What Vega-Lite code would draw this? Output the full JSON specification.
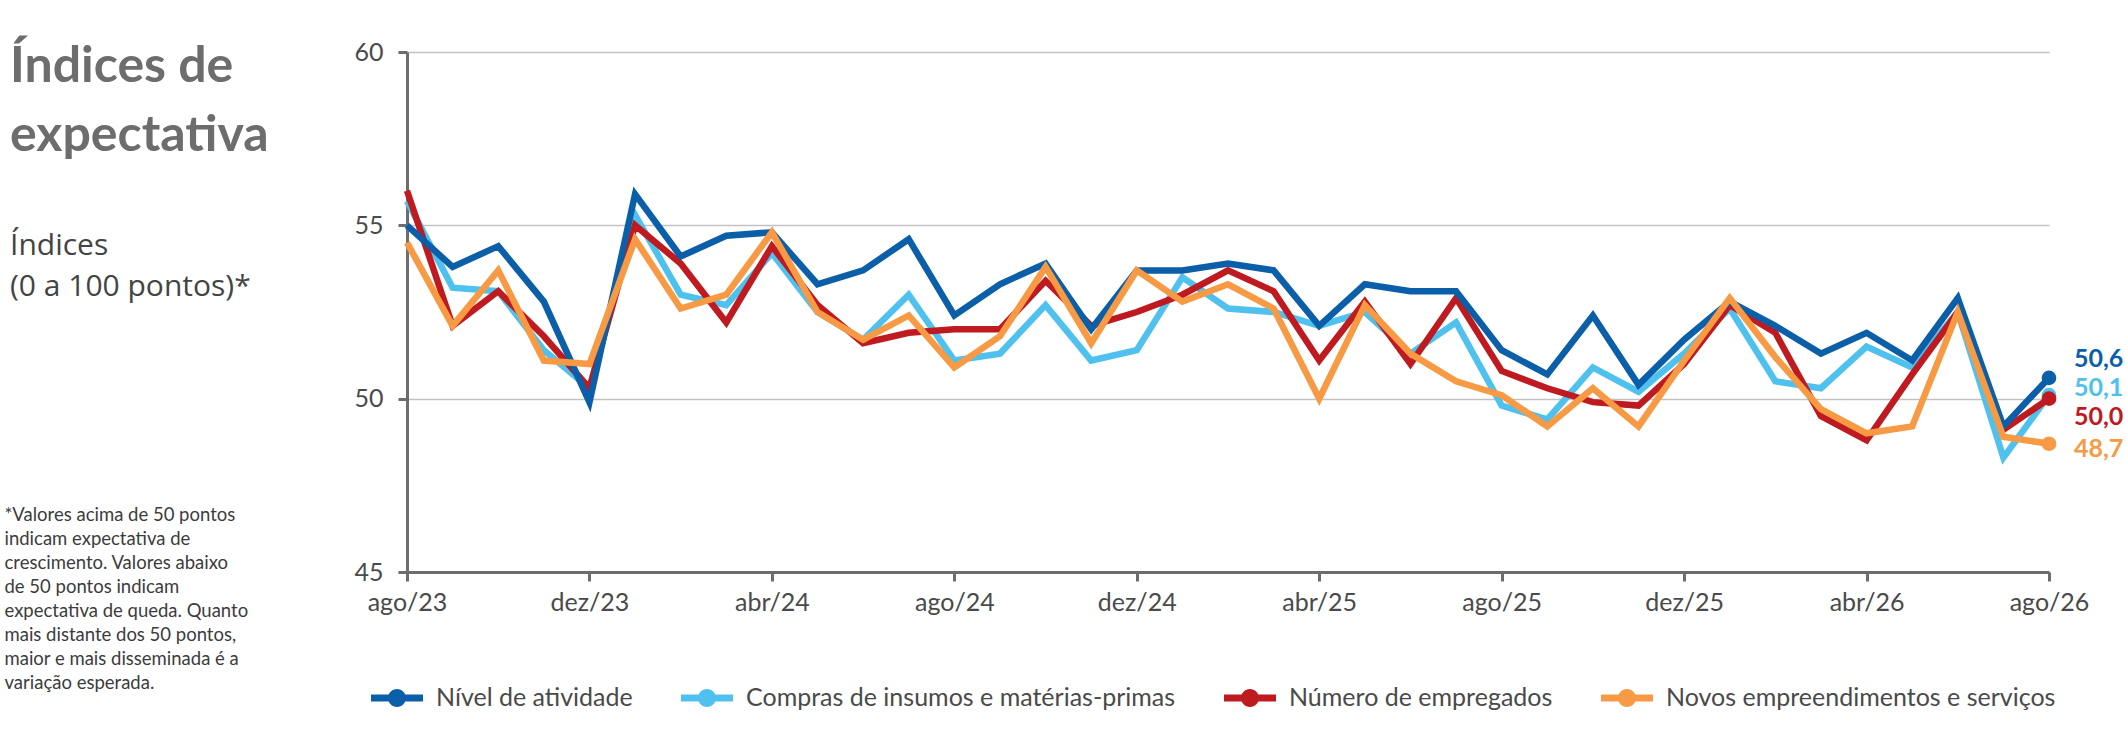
{
  "$schema": "https://vega.github.io/schema/vega-lite/v6.json",
  "width": 1642,
  "height": 520,
  "autosize": {"type": "none"},
  "padding": {"left": 407, "top": 52, "right": 77, "bottom": 163},
  "background": "white",
  "title": {
    "text": ["Índices de", "expectativa"],
    "subtitle": ["Índices", "(0 a 100 pontos)*"],
    "anchor": "start",
    "frame": "group",
    "offset": 0,
    "dx": -397,
    "dy": 262,
    "font": "Lato",
    "fontSize": 50,
    "fontWeight": "bold",
    "color": "#6d6d6d",
    "lineHeight": 69,
    "subtitleFont": "Open Sans",
    "subtitleFontSize": 30,
    "subtitleColor": "#444444",
    "subtitleLineHeight": 41,
    "subtitlePadding": 70
  },
  "data": {
    "values": [
      {"mes": "ago/23", "Nível de atividade": 55.0, "Compras de insumos e matérias-primas": 55.7, "Número de empregados": 56.0, "Novos empreendimentos e serviços": 54.5},
      {"mes": "set/23", "Nível de atividade": 53.8, "Compras de insumos e matérias-primas": 53.2, "Número de empregados": 52.1, "Novos empreendimentos e serviços": 52.1},
      {"mes": "out/23", "Nível de atividade": 54.4, "Compras de insumos e matérias-primas": 53.1, "Número de empregados": 53.1, "Novos empreendimentos e serviços": 53.7},
      {"mes": "nov/23", "Nível de atividade": 52.8, "Compras de insumos e matérias-primas": 51.4, "Número de empregados": 51.8, "Novos empreendimentos e serviços": 51.1},
      {"mes": "dez/23", "Nível de atividade": 49.9, "Compras de insumos e matérias-primas": 50.3, "Número de empregados": 50.3, "Novos empreendimentos e serviços": 51.0},
      {"mes": "jan/24", "Nível de atividade": 55.9, "Compras de insumos e matérias-primas": 55.3, "Número de empregados": 55.0, "Novos empreendimentos e serviços": 54.6},
      {"mes": "fev/24", "Nível de atividade": 54.1, "Compras de insumos e matérias-primas": 53.0, "Número de empregados": 53.9, "Novos empreendimentos e serviços": 52.6},
      {"mes": "mar/24", "Nível de atividade": 54.7, "Compras de insumos e matérias-primas": 52.7, "Número de empregados": 52.2, "Novos empreendimentos e serviços": 53.0},
      {"mes": "abr/24", "Nível de atividade": 54.8, "Compras de insumos e matérias-primas": 54.2, "Número de empregados": 54.4, "Novos empreendimentos e serviços": 54.8},
      {"mes": "mai/24", "Nível de atividade": 53.3, "Compras de insumos e matérias-primas": 52.5, "Número de empregados": 52.7, "Novos empreendimentos e serviços": 52.5},
      {"mes": "jun/24", "Nível de atividade": 53.7, "Compras de insumos e matérias-primas": 51.7, "Número de empregados": 51.6, "Novos empreendimentos e serviços": 51.7},
      {"mes": "jul/24", "Nível de atividade": 54.6, "Compras de insumos e matérias-primas": 53.0, "Número de empregados": 51.9, "Novos empreendimentos e serviços": 52.4},
      {"mes": "ago/24", "Nível de atividade": 52.4, "Compras de insumos e matérias-primas": 51.1, "Número de empregados": 52.0, "Novos empreendimentos e serviços": 50.9},
      {"mes": "set/24", "Nível de atividade": 53.3, "Compras de insumos e matérias-primas": 51.3, "Número de empregados": 52.0, "Novos empreendimentos e serviços": 51.8},
      {"mes": "out/24", "Nível de atividade": 53.9, "Compras de insumos e matérias-primas": 52.7, "Número de empregados": 53.4, "Novos empreendimentos e serviços": 53.8},
      {"mes": "nov/24", "Nível de atividade": 52.0, "Compras de insumos e matérias-primas": 51.1, "Número de empregados": 52.1, "Novos empreendimentos e serviços": 51.6},
      {"mes": "dez/24", "Nível de atividade": 53.7, "Compras de insumos e matérias-primas": 51.4, "Número de empregados": 52.5, "Novos empreendimentos e serviços": 53.7},
      {"mes": "jan/25", "Nível de atividade": 53.7, "Compras de insumos e matérias-primas": 53.5, "Número de empregados": 53.0, "Novos empreendimentos e serviços": 52.8},
      {"mes": "fev/25", "Nível de atividade": 53.9, "Compras de insumos e matérias-primas": 52.6, "Número de empregados": 53.7, "Novos empreendimentos e serviços": 53.3},
      {"mes": "mar/25", "Nível de atividade": 53.7, "Compras de insumos e matérias-primas": 52.5, "Número de empregados": 53.1, "Novos empreendimentos e serviços": 52.6},
      {"mes": "abr/25", "Nível de atividade": 52.1, "Compras de insumos e matérias-primas": 52.1, "Número de empregados": 51.1, "Novos empreendimentos e serviços": 50.0},
      {"mes": "mai/25", "Nível de atividade": 53.3, "Compras de insumos e matérias-primas": 52.5, "Número de empregados": 52.8, "Novos empreendimentos e serviços": 52.7},
      {"mes": "jun/25", "Nível de atividade": 53.1, "Compras de insumos e matérias-primas": 51.3, "Número de empregados": 51.0, "Novos empreendimentos e serviços": 51.3},
      {"mes": "jul/25", "Nível de atividade": 53.1, "Compras de insumos e matérias-primas": 52.2, "Número de empregados": 52.9, "Novos empreendimentos e serviços": 50.5},
      {"mes": "ago/25", "Nível de atividade": 51.4, "Compras de insumos e matérias-primas": 49.8, "Número de empregados": 50.8, "Novos empreendimentos e serviços": 50.1},
      {"mes": "set/25", "Nível de atividade": 50.7, "Compras de insumos e matérias-primas": 49.4, "Número de empregados": 50.3, "Novos empreendimentos e serviços": 49.2},
      {"mes": "out/25", "Nível de atividade": 52.4, "Compras de insumos e matérias-primas": 50.9, "Número de empregados": 49.9, "Novos empreendimentos e serviços": 50.3},
      {"mes": "nov/25", "Nível de atividade": 50.4, "Compras de insumos e matérias-primas": 50.2, "Número de empregados": 49.8, "Novos empreendimentos e serviços": 49.2},
      {"mes": "dez/25", "Nível de atividade": 51.7, "Compras de insumos e matérias-primas": 51.3, "Número de empregados": 51.0, "Novos empreendimentos e serviços": 51.1},
      {"mes": "jan/26", "Nível de atividade": 52.8, "Compras de insumos e matérias-primas": 52.6, "Número de empregados": 52.7, "Novos empreendimentos e serviços": 52.9},
      {"mes": "fev/26", "Nível de atividade": 52.1, "Compras de insumos e matérias-primas": 50.5, "Número de empregados": 51.9, "Novos empreendimentos e serviços": 51.2},
      {"mes": "mar/26", "Nível de atividade": 51.3, "Compras de insumos e matérias-primas": 50.3, "Número de empregados": 49.5, "Novos empreendimentos e serviços": 49.7},
      {"mes": "abr/26", "Nível de atividade": 51.9, "Compras de insumos e matérias-primas": 51.5, "Número de empregados": 48.8, "Novos empreendimentos e serviços": 49.0},
      {"mes": "mai/26", "Nível de atividade": 51.1, "Compras de insumos e matérias-primas": 50.9, "Número de empregados": 50.7, "Novos empreendimentos e serviços": 49.2},
      {"mes": "jun/26", "Nível de atividade": 52.9, "Compras de insumos e matérias-primas": 52.5, "Número de empregados": 52.5, "Novos empreendimentos e serviços": 52.5},
      {"mes": "jul/26", "Nível de atividade": 49.2, "Compras de insumos e matérias-primas": 48.3, "Número de empregados": 49.1, "Novos empreendimentos e serviços": 48.9},
      {"mes": "ago/26", "Nível de atividade": 50.6, "Compras de insumos e matérias-primas": 50.1, "Número de empregados": 50.0, "Novos empreendimentos e serviços": 48.7}
    ]
  },
  "transform": [
    {"fold": ["Compras de insumos e matérias-primas", "Número de empregados", "Nível de atividade", "Novos empreendimentos e serviços"], "as": ["serie", "valor"]}
  ],
  "encoding": {
    "x": {
      "field": "mes",
      "type": "ordinal",
      "sort": null,
      "scale": {"type": "point", "padding": 0},
      "axis": {
        "title": null,
        "values": ["ago/23", "dez/23", "abr/24", "ago/24", "dez/24", "abr/25", "ago/25", "dez/25", "abr/26", "ago/26"],
        "labelAngle": 0,
        "labelFont": "Lato",
        "labelFontSize": 25,
        "labelColor": "#4a4a4a",
        "labelPadding": 9,
        "domainColor": "#6d6d6d",
        "domainWidth": 3,
        "tickColor": "#6d6d6d",
        "tickWidth": 3,
        "tickSize": 9,
        "grid": false
      }
    },
    "y": {
      "field": "valor",
      "type": "quantitative",
      "scale": {"domain": [45, 60], "nice": false, "zero": false},
      "axis": {
        "values": [45, 50, 55, 60],
        "labelFont": "Lato",
        "labelFontSize": 25,
        "labelColor": "#4a4a4a",
        "labelPadding": 15,
        "domainColor": "#6d6d6d",
        "domainWidth": 3,
        "tickColor": "#6d6d6d",
        "tickWidth": 3,
        "tickSize": 9,
        "grid": true,
        "gridColor": "#c2c2c2",
        "gridWidth": 1.5,
        "title": ["*Valores acima de 50 pontos", "indicam expectativa de", "crescimento. Valores abaixo", "de 50 pontos indicam", "expectativa de queda. Quanto", "mais distante dos 50 pontos,", "maior e mais disseminada é a", "variação esperada."],
        "titleAngle": 0,
        "titleAlign": "left",
        "titleBaseline": "alphabetic",
        "titleX": -403,
        "titleY": 468,
        "titleFont": "Lato",
        "titleFontSize": 18.5,
        "titleFontWeight": "normal",
        "titleColor": "#3c3c3c",
        "titleLineHeight": 24
      }
    },
    "color": {
      "field": "serie",
      "type": "nominal",
      "scale": {
        "domain": ["Nível de atividade", "Compras de insumos e matérias-primas", "Número de empregados", "Novos empreendimentos e serviços"],
        "range": ["#0b5ea8", "#4ec1ee", "#bf1a1f", "#f79a43"]
      },
      "legend": {
        "title": null,
        "orient": "none",
        "legendX": -36,
        "legendY": 620,
        "direction": "horizontal",
        "columns": 4,
        "columnPadding": 48,
        "symbolType": "M-1,-0.135L1,-0.135L1,0.135L-1,0.135Z M0.346,0A0.346,0.346,0,1,1,-0.346,0A0.346,0.346,0,1,1,0.346,0Z",
        "symbolSize": 2704,
        "symbolStrokeWidth": 0,
        "labelFont": "Lato",
        "labelFontSize": 25,
        "labelColor": "#4a4a4a",
        "labelOffset": 13,
        "labelLimit": 600,
        "encode": {
          "symbols": {"update": {"fill": {"scale": "color", "field": "value"}, "stroke": {"value": "transparent"}, "opacity": {"value": 1}}}
        }
      }
    }
  },
  "layer": [
    {"mark": {"type": "line", "strokeWidth": 6.5}},
    {
      "transform": [{"filter": "datum.mes == 'ago/26'"}],
      "mark": {"type": "point", "filled": true, "size": 215, "opacity": 1}
    },
    {
      "transform": [{"filter": "datum.mes == 'ago/26' && datum.serie == 'Nível de atividade'"}],
      "mark": {"type": "text", "align": "left", "baseline": "middle", "dx": 25, "dy": -19, "font": "Lato", "fontSize": 25, "fontWeight": "bold"},
      "encoding": {"text": {"field": "valor", "type": "quantitative", "format": ".1f"}}
    },
    {
      "transform": [{"filter": "datum.mes == 'ago/26' && datum.serie == 'Compras de insumos e matérias-primas'"}],
      "mark": {"type": "text", "align": "left", "baseline": "middle", "dx": 25, "dy": -7, "font": "Lato", "fontSize": 25, "fontWeight": "bold"},
      "encoding": {"text": {"field": "valor", "type": "quantitative", "format": ".1f"}}
    },
    {
      "transform": [{"filter": "datum.mes == 'ago/26' && datum.serie == 'Número de empregados'"}],
      "mark": {"type": "text", "align": "left", "baseline": "middle", "dx": 25, "dy": 18, "font": "Lato", "fontSize": 25, "fontWeight": "bold"},
      "encoding": {"text": {"field": "valor", "type": "quantitative", "format": ".1f"}}
    },
    {
      "transform": [{"filter": "datum.mes == 'ago/26' && datum.serie == 'Novos empreendimentos e serviços'"}],
      "mark": {"type": "text", "align": "left", "baseline": "middle", "dx": 25, "dy": 5, "font": "Lato", "fontSize": 25, "fontWeight": "bold"},
      "encoding": {"text": {"field": "valor", "type": "quantitative", "format": ".1f"}}
    }
  ],
  "config": {
    "view": {"stroke": null},
    "locale": {"number": {"decimal": ",", "thousands": ".", "grouping": [3], "currency": ["R$", ""]}}
  }
}
